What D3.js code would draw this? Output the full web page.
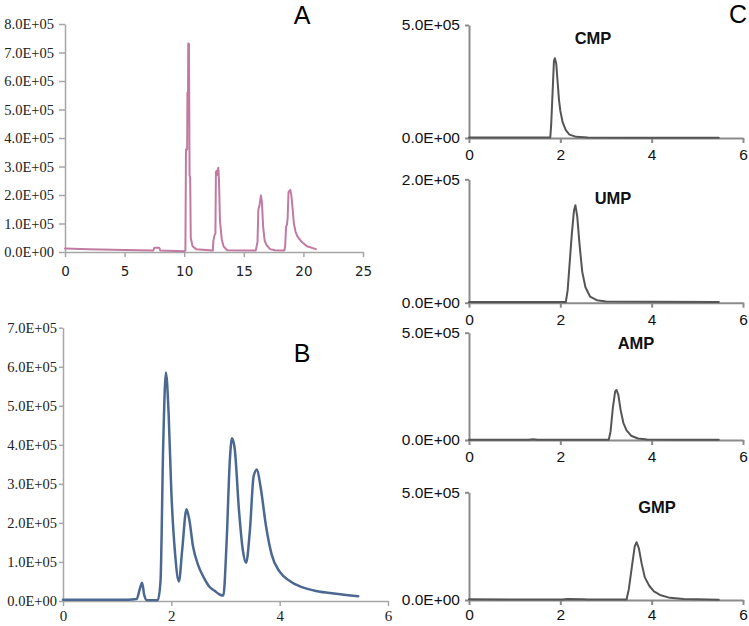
<!DOCTYPE html>
<html>
<head>
<meta charset="utf-8">
<script src="https://cdn.jsdelivr.net/npm/d3@7"></script>
<style>
  html, body { margin: 0; padding: 0; background: #fff; }
  svg { display: block; }
</style>
</head>
<body>
<svg id="chart" width="749" height="626"></svg>
<script>
// ---------- DATA ----------
// Panel A (time, signal)
const aTime   = [0, 2, 5, 7.4, 7.5, 7.9, 8.0, 10.0, 10.1, 10.15, 10.25, 10.27, 10.32, 10.34, 10.4, 10.45, 10.5, 10.55, 10.7, 11.0, 12.4, 12.45, 12.55, 12.62, 12.66, 12.72, 12.78, 12.86, 12.92, 13.0, 13.15, 13.3, 13.6, 16.0, 16.08, 16.15, 16.22, 16.3, 16.44, 16.52, 16.62, 16.75, 16.9, 17.2, 17.6, 18.4, 18.47, 18.55, 18.62, 18.68, 18.75, 18.9, 19.0, 19.1, 19.2, 19.35, 19.5, 19.8, 20.3, 21.05];
const aSignal = [12000, 10000, 7000, 5000, 15000, 15000, 5000, 3000, 5000, 360000, 360000, 560000, 560000, 732000, 730000, 270000, 260000, 50000, 20000, 10000, 5000, 40000, 60000, 65000, 280000, 285000, 270000, 296000, 250000, 110000, 45000, 20000, 6000, 5000, 20000, 35000, 150000, 160000, 198000, 175000, 90000, 40000, 25000, 10000, 6000, 5000, 20000, 90000, 95000, 120000, 210000, 218000, 195000, 150000, 100000, 70000, 55000, 38000, 20000, 10000];

// Panel B (time, signal)
const bTime   = [0, 1.2, 1.36, 1.42, 1.46, 1.5, 1.55, 1.75, 1.8, 1.85, 1.9, 1.95, 2.0, 2.07, 2.14, 2.2, 2.28, 2.33, 2.4, 2.5, 2.6, 2.7, 2.8, 2.9, 2.96, 3.02, 3.08, 3.12, 3.17, 3.25, 3.32, 3.38, 3.45, 3.52, 3.58, 3.65, 3.75, 3.85, 4.0, 4.2, 4.4, 4.7, 5.0, 5.45];
const bSignal = [3000, 3000, 5000, 32000, 47000, 15000, 2000, 2000, 50000, 400000, 585000, 480000, 280000, 120000, 50000, 130000, 235000, 210000, 140000, 90000, 60000, 37000, 26000, 16000, 14000, 150000, 360000, 417000, 390000, 230000, 130000, 98000, 180000, 320000, 337000, 290000, 190000, 120000, 75000, 50000, 36000, 25000, 19000, 12000];

// Panel C standards
const cNames = ["CMP", "UMP", "AMP", "GMP"];
const cMax   = [500000, 200000, 500000, 500000];

const cmpTime   = [0, 1.0, 1.78, 1.8, 1.83, 1.86, 1.88, 1.91, 1.94, 1.97, 2.0, 2.05, 2.12, 2.2, 2.35, 2.6, 3.5, 5.47];
const cmpSignal = [2000, 2000, 2000, 60000, 200000, 340000, 353000, 330000, 250000, 170000, 120000, 70000, 35000, 15000, 5000, 2000, 1500, 1000];

const umpTime   = [0, 1.0, 2.12, 2.16, 2.2, 2.25, 2.3, 2.33, 2.37, 2.42, 2.48, 2.55, 2.65, 2.8, 3.0, 4.0, 5.47];
const umpSignal = [1000, 1000, 1000, 20000, 60000, 110000, 150000, 158000, 140000, 95000, 50000, 25000, 10000, 4000, 2000, 1500, 1000];

const ampTime   = [0, 1.3, 1.4, 1.5, 3.06, 3.1, 3.15, 3.2, 3.23, 3.27, 3.32, 3.38, 3.45, 3.55, 3.7, 3.9, 4.5, 5.47];
const ampSignal = [1000, 1000, 4000, 1000, 1000, 40000, 150000, 225000, 233000, 210000, 140000, 80000, 45000, 20000, 7000, 2000, 1000, 1000];

const gmpTime   = [0, 1.0, 2.05, 2.15, 2.5, 2.6, 3.45, 3.5, 3.57, 3.63, 3.67, 3.72, 3.78, 3.85, 3.95, 4.05, 4.2, 4.4, 4.7, 5.0, 5.47];
const gmpSignal = [3000, 2000, 2000, 5000, 4000, 2000, 2000, 50000, 160000, 250000, 268000, 240000, 170000, 105000, 65000, 40000, 22000, 10000, 5000, 3000, 1000];

const aXTicks = [0, 5, 10, 15, 20, 25];
const aYTicks = [0, 100000, 200000, 300000, 400000, 500000, 600000, 700000, 800000];
const bXTicks = [0, 2, 4, 6];
const bYTicks = [0, 100000, 200000, 300000, 400000, 500000, 600000, 700000];
const cXTicks = [0, 2, 4, 6];

// ---------- DRAW ----------
const svg = d3.select("#chart");

function sci(d) {
  if (d === 0) return "0.0E+00";
  const e = Math.floor(Math.log10(d) + 1e-9);
  const m = d / Math.pow(10, e);
  return m.toFixed(1) + "E+" + String(e).padStart(2, "0");
}

function panel(cfg) {
  const g = svg.append("g");
  const x = d3.scaleLinear().domain(cfg.xDomain).range(cfg.xRange);
  const y = d3.scaleLinear().domain(cfg.yDomain).range(cfg.yRange);

  const xAxis = d3.axisBottom(x).tickValues(cfg.xTicks).tickFormat(d3.format("d"))
    .tickSizeOuter(0).tickSizeInner(cfg.xTickSize).tickPadding(cfg.xPad);
  const yAxis = d3.axisLeft(y).tickValues(cfg.yTicks).tickFormat(sci)
    .tickSizeOuter(0).tickSizeInner(cfg.yTickSize).tickPadding(cfg.yPad);

  const gx = g.append("g").attr("transform", `translate(0,${cfg.yRange[0]})`).call(xAxis);
  const gy = g.append("g").attr("transform", `translate(${cfg.xRange[0]},0)`).call(yAxis);

  [gx, gy].forEach(ax => {
    ax.select(".domain").attr("stroke", cfg.axisColor).attr("stroke-width", cfg.axisWidth);
    ax.selectAll(".tick line").attr("stroke", cfg.axisColor).attr("stroke-width", cfg.axisWidth);
    ax.selectAll(".tick text").attr("fill", cfg.textColor);
  });
  gx.selectAll(".tick text").attr("font-family", cfg.xFont).attr("font-size", cfg.xFontSize);
  gy.selectAll(".tick text").attr("font-family", cfg.yFont).attr("font-size", cfg.yFontSize);
  gx.attr("font-family", null).attr("font-size", null);
  gy.attr("font-family", null).attr("font-size", null);

  const line = d3.line()
    .x((d, i) => x(cfg.xs[i]))
    .y((d, i) => y(cfg.ys[i]))
    .curve(cfg.curve);
  g.append("path")
    .datum(cfg.xs)
    .attr("d", line)
    .attr("fill", "none")
    .attr("stroke", cfg.color)
    .attr("stroke-width", cfg.lineWidth)
    .attr("stroke-linejoin", "round")
    .attr("stroke-linecap", "round");
  return g;
}

// Panel A
panel({
  xs: aTime, ys: aSignal, xDomain: [0, 25], xRange: [65, 363],
  yDomain: [0, 800000], yRange: [252, 24], xTicks: aXTicks, yTicks: aYTicks,
  xTickSize: 5, xPad: 9, yTickSize: 6, yPad: 5,
  axisColor: "#a6a6a6", axisWidth: 1.5, textColor: "#222",
  xFont: "DejaVu Sans", xFontSize: 13.5, yFont: "Liberation Serif", yFontSize: 14.5,
  color: "#c27aa2", lineWidth: 2, curve: d3.curveLinear
});

// Panel B
panel({
  xs: bTime, ys: bSignal, xDomain: [0, 6], xRange: [63, 388],
  yDomain: [0, 700000], yRange: [601, 327.7], xTicks: bXTicks, yTicks: bYTicks,
  xTickSize: 5, xPad: 4, yTickSize: 4, yPad: 2,
  axisColor: "#a6a6a6", axisWidth: 1.5, textColor: "#222",
  xFont: "Liberation Serif", xFontSize: 15, yFont: "Liberation Serif", yFontSize: 14.5,
  color: "#4a6891", lineWidth: 2.5, curve: d3.curveMonotoneX
});

// Panel C
const cSeries = [[cmpTime, cmpSignal], [umpTime, umpSignal], [ampTime, ampSignal], [gmpTime, gmpSignal]];
const cBase = [138, 302.7, 440, 600];
const cTop  = [25, 179.3, 332.7, 492.3];
const cPad  = [6, 6, 6, 4];
const cLabelPos = [[593, 38], [613, 198], [636, 343], [657, 507]];
cSeries.forEach((s, i) => {
  panel({
    xs: s[0], ys: s[1], xDomain: [0, 6], xRange: [469, 743],
    yDomain: [0, cMax[i]], yRange: [cBase[i], cTop[i]], xTicks: cXTicks, yTicks: [0, cMax[i]],
    xTickSize: 5, xPad: cPad[i], yTickSize: 4, yPad: 5,
    axisColor: "#8a8a8a", axisWidth: 2, textColor: "#111",
    xFont: "Liberation Sans", xFontSize: 15.5, yFont: "Liberation Sans", yFontSize: 15.5,
    color: "#555555", lineWidth: 2, curve: d3.curveLinear
  });
  svg.append("text")
    .attr("x", cLabelPos[i][0]).attr("y", cLabelPos[i][1])
    .attr("dy", "0.35em").attr("text-anchor", "middle")
    .attr("font-family", "Liberation Sans").attr("font-weight", "bold")
    .attr("font-size", 16.5).attr("fill", "#111")
    .text(cNames[i]);
});

// Panel letters
const letters = [["A", 302, 15], ["B", 302, 353], ["C", 738, 14]];
letters.forEach(l => {
  svg.append("text").attr("x", l[1]).attr("y", l[2]).attr("dy", "0.36em")
    .attr("text-anchor", "middle").attr("font-family", "Liberation Sans")
    .attr("font-size", 25).attr("fill", "#000").text(l[0]);
});
</script>
</body>
</html>
